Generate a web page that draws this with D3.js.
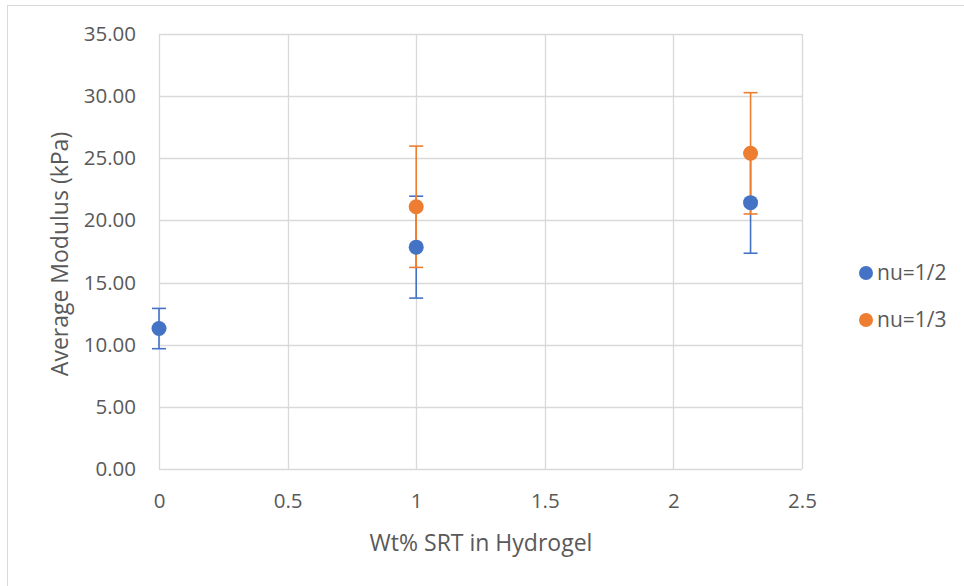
<!DOCTYPE html>
<html><head><meta charset="utf-8">
<script src="https://cdn.jsdelivr.net/npm/d3@7"></script>
<style>body{margin:0;background:#fff}svg{display:block}text{font-family:"Open Sans",sans-serif;fill:#595959}</style>
</head><body><svg id="c" width="964" height="586"></svg>
<script>
const seriesNames = ["nu=1/2", "nu=1/3"];
const colors = ["#4472C4", "#ED7D31"];
const xHalf = [0, 1, 2.3];
const yHalf = [11.3, 17.85, 21.43];
const errHalf = [1.62, 4.1, 4.07];
const xThird = [1, 2.3];
const yThird = [21.1, 25.4];
const errThird = [4.88, 4.88];
const xTicks = [0, 0.5, 1, 1.5, 2, 2.5];
const yTicks = [0, 5, 10, 15, 20, 25, 30, 35];

const svg = d3.select("#c");
const L = 159, R = 802, T = 34, B = 469;
const x = d3.scaleLinear().domain([0, 2.5]).range([L, R]);
const y = d3.scaleLinear().domain([0, 35]).range([B, T]);

svg.append("rect").attr("x", 7.5).attr("y", 5.5).attr("width", 1000).attr("height", 1000)
  .attr("fill", "none").attr("stroke", "#D9D9D9").attr("stroke-width", 1);

// gridlines
const g = svg.append("g");
g.selectAll("line.h").data(yTicks).join("line")
  .attr("x1", L).attr("x2", R).attr("y1", d => Math.round(y(d)) + 0.5).attr("y2", d => Math.round(y(d)) + 0.5)
  .attr("stroke", "#D9D9D9").attr("stroke-width", 1.3);
g.selectAll("line.v").data(xTicks).join("line")
  .attr("y1", T).attr("y2", B).attr("x1", d => Math.round(x(d)) + 0.5).attr("x2", d => Math.round(x(d)) + 0.5)
  .attr("stroke", "#D9D9D9").attr("stroke-width", 1.3);

// axes with d3 axis, styled
const ax = svg.append("g").attr("transform", `translate(0,${B})`)
  .call(d3.axisBottom(x).tickValues(xTicks).tickSize(0).tickPadding(24).tickFormat(d3.format("")));
ax.select(".domain").remove();
ax.selectAll("text").attr("font-size", 20.5).style("font-family", '"Open Sans",sans-serif').attr("fill", "#595959");
const ay = svg.append("g").attr("transform", `translate(${L},0)`)
  .call(d3.axisLeft(y).tickValues(yTicks).tickSize(0).tickPadding(23).tickFormat(d3.format(".2f")));
ay.select(".domain").remove();
ay.selectAll("text").attr("font-size", 20.5).style("font-family", '"Open Sans",sans-serif').attr("fill", "#595959");

svg.append("text").attr("x", 481).attr("y", 551).attr("text-anchor", "middle")
  .attr("font-size", 23).text("Wt% SRT in Hydrogel");
svg.append("text").attr("transform", `translate(68,254) rotate(-90)`).attr("text-anchor", "middle")
  .attr("font-size", 23).text("Average Modulus (kPa)");

const data = [
  xHalf.map((d, i) => ({x: d, y: yHalf[i], e: errHalf[i], s: 0})),
  xThird.map((d, i) => ({x: d, y: yThird[i], e: errThird[i], s: 1}))
];
const cap = 7;
data.forEach(ser => {
  const eg = svg.append("g").attr("stroke", colors[ser[0].s]).attr("stroke-width", 1.6);
  ser.forEach(p => {
    const cx = x(p.x);
    eg.append("line").attr("x1", cx).attr("x2", cx).attr("y1", y(p.y - p.e)).attr("y2", y(p.y + p.e));
    eg.append("line").attr("x1", cx - cap).attr("x2", cx + cap).attr("y1", y(p.y + p.e)).attr("y2", y(p.y + p.e));
    eg.append("line").attr("x1", cx - cap).attr("x2", cx + cap).attr("y1", y(p.y - p.e)).attr("y2", y(p.y - p.e));
  });
});
data.forEach(ser => {
  svg.append("g").selectAll("circle").data(ser).join("circle")
    .attr("cx", d => x(d.x)).attr("cy", d => y(d.y)).attr("r", 7.5)
    .attr("fill", d => colors[d.s]);
});

// legend
const lg = svg.append("g");
seriesNames.forEach((n, i) => {
  const yy = 273 + i * 47;
  lg.append("circle").attr("cx", 866).attr("cy", yy).attr("r", 7).attr("fill", colors[i]);
  lg.append("text").attr("x", 877).attr("y", yy).attr("dy", "0.35em").attr("font-size", 21).text(n);
});
</script></body></html>
